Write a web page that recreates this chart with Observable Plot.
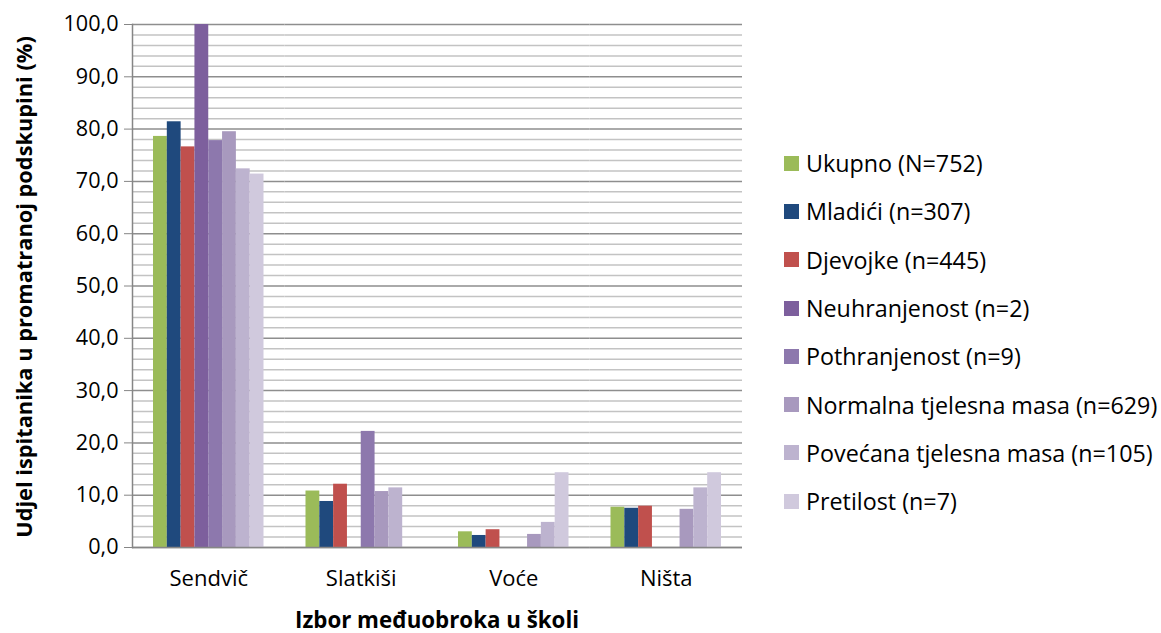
<!DOCTYPE html>
<html><head><meta charset="utf-8">
<script src="https://cdn.jsdelivr.net/npm/d3@7"></script>
<script src="https://cdn.jsdelivr.net/npm/@observablehq/plot@0.6"></script>
<style>
body{margin:0;background:#fff;font-family:"Open Sans",sans-serif;color:#000;}
#wrap{position:relative;width:1161px;height:633px;overflow:hidden;}
#legend{position:absolute;left:784px;top:139px;}
.item{height:48.3px;display:flex;align-items:center;font-size:23.3px;white-space:nowrap;}
.sw{width:15px;height:15px;margin-right:7px;flex:none;}
#ytitle{position:absolute;left:23px;top:287px;transform:translate(-50%,-50%) rotate(-90deg);font-weight:bold;font-size:21.8px;white-space:nowrap;}
#xtitle{position:absolute;left:437px;top:619px;transform:translate(-50%,-50%);font-weight:bold;font-size:22.3px;white-space:nowrap;}
</style></head><body>
<div id="wrap"><div id="chart"></div><div id="legend"></div>
<div id="ytitle">Udjel ispitanika u promatranoj podskupini (%)</div>
<div id="xtitle">Izbor međuobroka u školi</div></div>
<script>
const categories = ["Sendvič", "Slatkiši", "Voće", "Ništa"];
const series = ["Ukupno (N=752)", "Mladići (n=307)", "Djevojke (n=445)", "Neuhranjenost (n=2)", "Pothranjenost (n=9)", "Normalna tjelesna masa (n=629)", "Povećana tjelesna masa (n=105)", "Pretilost (n=7)"];
const colors = ["#9BBB59", "#1F497D", "#C0504D", "#7D5F9D", "#8D78AD", "#A899BE", "#BDB3CF", "#D0C9DD"];
const ukupno = [78.6, 10.8, 3.0, 7.7];
const mladici = [81.4, 8.8, 2.3, 7.5];
const djevojke = [76.6, 12.1, 3.4, 7.9];
const neuhranjenost = [100.0, 0, 0, 0];
const pothranjenost = [77.8, 22.2, 0, 0];
const normalna = [79.5, 10.7, 2.5, 7.3];
const povecana = [72.4, 11.4, 4.8, 11.4];
const pretilost = [71.4, 0, 14.3, 14.3];
const majorTicks = [0, 10, 20, 30, 40, 50, 60, 70, 80, 90, 100];
const minorTicks = [2, 4, 6, 8, 12, 14, 16, 18, 22, 24, 26, 28, 32, 34, 36, 38, 42, 44, 46, 48, 52, 54, 56, 58, 62, 64, 66, 68, 72, 74, 76, 78, 82, 84, 86, 88, 92, 94, 96, 98];

const seriesValues = [ukupno, mladici, djevojke, neuhranjenost, pothranjenost, normalna, povecana, pretilost];
const rows = [];
seriesValues.forEach((vals, si) => vals.forEach((v, ci) => rows.push({category: categories[ci], series: series[si], value: v})));

const fmt = d => d.toFixed(1).replace(".", ",");

const chart = Plot.plot({
  width: 1161, height: 633,
  marginLeft: 132, marginRight: 419, marginTop: 24, marginBottom: 86,
  style: {fontFamily: "Open Sans, sans-serif", fontSize: "21.6px", color: "#000", background: "#fff"},
  fx: {domain: categories, padding: 0, round: false, axis: null, label: null},
  x: {domain: series, paddingInner: 0, paddingOuter: 1.52, round: false, axis: null},
  y: {domain: [0, 100], axis: null},
  color: {domain: series, range: colors},
  marks: [
    Plot.ruleY(minorTicks, {stroke: "#c3c3c3", strokeWidth: 1.5}),
    Plot.ruleY(majorTicks, {stroke: "#8e8e8e", strokeWidth: 1.5}),
    Plot.barY(rows, {fx: "category", x: "series", y: "value", fill: "series"}),
    Plot.ruleY([0], {stroke: "#868686", strokeWidth: 1.5}),
    Plot.axisY({ticks: majorTicks, tickSize: 8, tickPadding: 6, tickFormat: fmt, label: null, stroke: "#868686"}),
    Plot.axisFx({anchor: "bottom", tickSize: 0, tickPadding: 23, label: null, fontSize: 22}),
    Plot.frame({anchor: "left", facetAnchor: "left", stroke: "#868686", strokeWidth: 1.5})
  ]
});
document.getElementById("chart").appendChild(chart);

const legend = document.getElementById("legend");
series.forEach((s, i) => {
  const it = document.createElement("div"); it.className = "item";
  const sw = document.createElement("div"); sw.className = "sw"; sw.style.background = colors[i];
  const t = document.createElement("span"); t.textContent = s;
  it.appendChild(sw); it.appendChild(t); legend.appendChild(it);
});
</script></body></html>
